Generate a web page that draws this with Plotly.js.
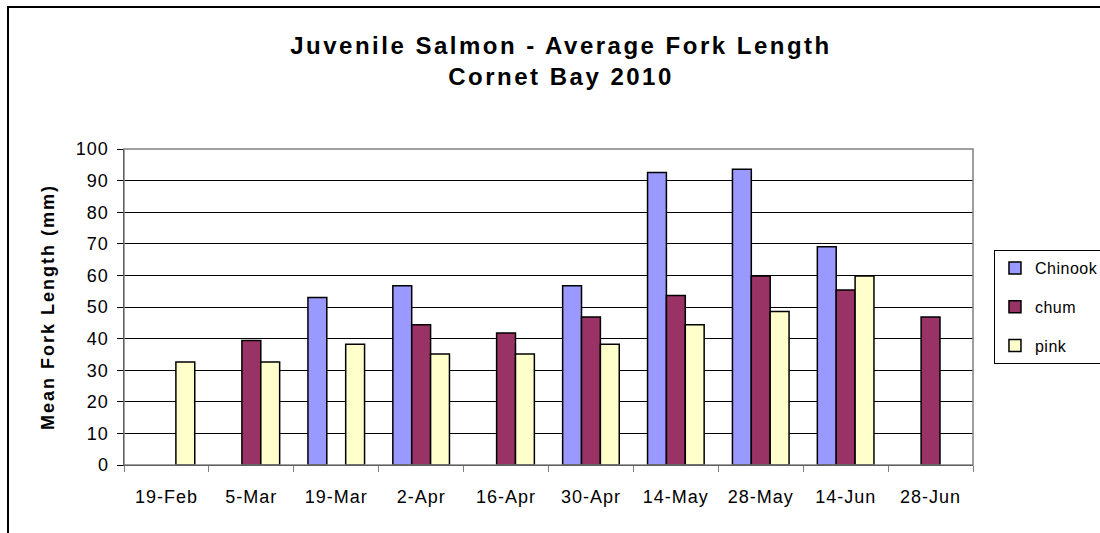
<!DOCTYPE html>
<html>
<head>
<meta charset="utf-8">
<script src="https://cdn.plot.ly/plotly-3.0.1.min.js"></script>
<style>
  html, body { margin: 0; padding: 0; background: #fff; }
  #wrap { position: relative; width: 1100px; height: 533px; overflow: hidden; }
  #chart { width: 1100px; height: 533px; }
  #frame { position: absolute; left: 7px; top: 6px; width: 1200px; height: 600px;
           border-left: 2px solid #000; border-top: 2px solid #000; pointer-events: none; }
  #chart text { letter-spacing: 1px; }
  #chart .gtitle { letter-spacing: 2.5px; }
  #chart .ytitle { letter-spacing: 2px; }
  #chart .legendtext { letter-spacing: 0.5px; }
</style>
</head>
<body>
<div id="wrap">
  <div id="chart"></div>
  <div id="frame"></div>
</div>
<script>
const dates = ["19-Feb", "5-Mar", "19-Mar", "2-Apr", "16-Apr", "30-Apr", "14-May", "28-May", "14-Jun", "28-Jun"];
const chinook = [null, null, 53.0, 56.7, null, 56.7, 92.6, 93.6, 69.1, null];
const chum    = [null, 39.4, null, 44.4, 41.8, 46.8, 53.6, 59.8, 55.4, 46.8];
const pink    = [32.6, 32.6, 38.2, 35.1, 35.1, 38.2, 44.4, 48.6, 59.8, null];
const seriesNames = ["Chinook", "chum", "pink"];
const seriesColors = ["#9999FF", "#993366", "#FFFFCC"];

const values = [chinook, chum, pink];
const traces = values.map((v, i) => ({
  type: "bar",
  name: seriesNames[i],
  x: dates,
  y: v,
  legendgroup: "g" + i,
  marker: { color: seriesColors[i], line: { color: "#000", width: 1.5 } },
  hoverinfo: "x+y+name"
}));

const font = "Liberation Sans, Arial, sans-serif";
const layout = {
  width: 1100, height: 533,
  paper_bgcolor: "rgba(0,0,0,0)",
  plot_bgcolor: "#fff",
  margin: { l: 124, r: 127, t: 149, b: 68, autoexpand: false },
  barmode: "group",
  bargap: 0.333,
  bargroupgap: 0,
  font: { family: font, color: "#000", size: 18 },
  title: {
    text: "<b>Juvenile Salmon - Average Fork Length<br>Cornet Bay 2010</b>",
    x: 0.51, xref: "container", xanchor: "center",
    y: 0.899, yref: "container", yanchor: "top",
    font: { family: font, size: 24, color: "#000" }
  },
  xaxis: {
    type: "category",
    tickson: "boundaries",
    ticks: "outside", ticklen: 6, tickcolor: "#808080", tickwidth: 1,
    showline: true, linecolor: "#000", linewidth: 1,
    showgrid: false,
    tickfont: { family: font, size: 18 },
    ticklabelstandoff: 15,
    fixedrange: true
  },
  yaxis: {
    range: [0, 100], dtick: 10,
    ticks: "outside", ticklen: 6, tickcolor: "#000", tickwidth: 1,
    showline: true, linecolor: "#000", linewidth: 1.5,
    showgrid: true, gridcolor: "#000", gridwidth: 1,
    zeroline: false,
    tickfont: { family: font, size: 18 },
    ticklabelstandoff: 4,
    title: { text: "<b>Mean Fork Length (mm)</b>", font: { family: font, size: 18 }, standoff: 19 },
    fixedrange: true
  },
  shapes: [{
    type: "rect", xref: "paper", yref: "paper", x0: 0, x1: 1, y0: 0, y1: 1,
    line: { color: "#808080", width: 1.5 }, layer: "above"
  }],
  showlegend: true,
  legend: {
    x: 1.0247, xanchor: "left", y: 0.68, yanchor: "top",
    bgcolor: "#fff", bordercolor: "#000", borderwidth: 1,
    font: { family: font, size: 16 },
    tracegroupgap: 15,
    traceorder: "grouped",
    itemwidth: 30
  }
};

Plotly.newPlot("chart", traces, layout, { displayModeBar: false, staticPlot: true });
</script>
</body>
</html>
